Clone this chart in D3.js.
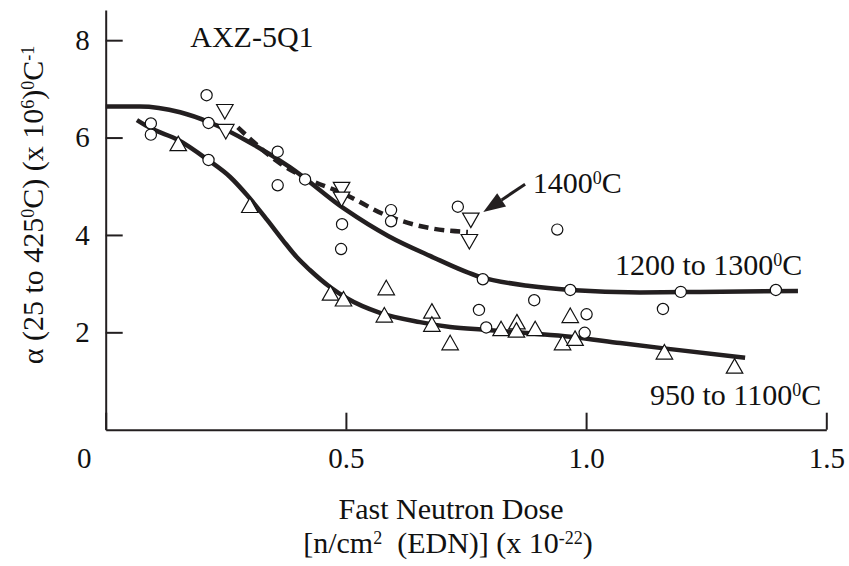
<!DOCTYPE html>
<html>
<head>
<meta charset="utf-8">
<script src="https://cdn.jsdelivr.net/npm/d3@7"></script>
<style>
  body { margin: 0; background: #fff; }
  text { font-family: "Liberation Serif", "Times New Roman", "DejaVu Serif", serif; fill: #111; }
</style>
</head>
<body>
<div id="chart"></div>
<script>
(function(){

    // tick values
    var xTicks = [0, 0.5, 1.0, 1.5];
    var yTicks = [2, 4, 6, 8];

    // open circles
    var circles = [
        [0.094, 6.29], [0.094, 6.06], [0.210, 6.87], [0.214, 6.30], [0.214, 5.54],
        [0.358, 5.71], [0.358, 5.02], [0.415, 5.14], [0.492, 4.22], [0.490, 3.71],
        [0.594, 4.51], [0.594, 4.28], [0.733, 4.58], [0.785, 3.09], [0.777, 2.46],
        [0.792, 2.10], [0.892, 2.66], [0.940, 4.11], [0.967, 2.87], [1.001, 2.37],
        [0.997, 1.99], [1.160, 2.48], [1.197, 2.83], [1.395, 2.87]
    ];

    // open triangles, point up
    var upTriangles = [
        [0.151, 5.88], [0.300, 4.61], [0.468, 2.81], [0.495, 2.69], [0.584, 2.92],
        [0.580, 2.36], [0.679, 2.44], [0.679, 2.17], [0.717, 1.79], [0.823, 2.08],
        [0.856, 2.22], [0.855, 2.05], [0.894, 2.08], [0.967, 2.35], [0.951, 1.79],
        [0.977, 1.88], [1.163, 1.60], [1.309, 1.31]
    ];

    // open triangles, point down
    var downTriangles = [
        [0.248, 6.53], [0.250, 6.12], [0.491, 4.93], [0.491, 4.73], [0.760, 4.30], [0.757, 3.86]
    ];

    // fitted curves
    var curve1200 = [
        [0.000, 6.64], [0.071, 6.64], [0.155, 6.52], [0.217, 6.31], [0.300, 5.90],
        [0.384, 5.39], [0.498, 4.53], [0.588, 3.98], [0.675, 3.57], [0.779, 3.14],
        [0.883, 2.95], [0.967, 2.87], [1.112, 2.82], [1.237, 2.83], [1.441, 2.85]
    ];
    var curve950 = [
        [0.065, 6.36], [0.094, 6.19], [0.151, 5.95], [0.213, 5.54], [0.259, 5.19],
        [0.294, 4.82], [0.336, 4.31], [0.369, 3.89], [0.398, 3.54], [0.425, 3.28],
        [0.467, 2.93], [0.502, 2.70], [0.571, 2.40], [0.654, 2.21], [0.717, 2.11],
        [0.794, 2.05], [0.883, 1.98], [0.967, 1.91], [1.071, 1.78], [1.162, 1.67],
        [1.331, 1.48]
    ];
    var curve1400 = [
        [0.275, 6.21], [0.363, 5.47], [0.425, 5.13], [0.488, 4.88], [0.592, 4.37],
        [0.675, 4.14], [0.754, 4.06]
    ];

    var width = 849;
    var height = 566;
    var ink = '#231f20';
    var serif = '"Liberation Serif", "Times New Roman", "DejaVu Serif", serif';

    var svg = d3.select('#chart')
        .append('svg')
            .attr('width', width)
            .attr('height', height);

    var xScale = d3.scaleLinear()
        .domain([0, 1.5])
        .range([105.7, 826.3]);

    var yScale = d3.scaleLinear()
        .domain([0, 8.62])
        .range([429.7, 10]);

    // axes
    var xAxis = d3.axisBottom(xScale)
        .tickValues(xTicks)
        .tickSizeInner(-17)
        .tickSizeOuter(0)
        .tickPadding(18)
        .tickFormat(function(d){ return d === 0 ? '0' : d3.format('.1f')(d); });

    var yAxis = d3.axisLeft(yScale)
        .tickValues(yTicks)
        .tickSizeInner(-17)
        .tickSizeOuter(0)
        .tickPadding(16)
        .tickFormat(d3.format('d'));

    var gx = svg.append('g')
        .attr('transform', 'translate(0,' + yScale(0) + ')')
        .call(xAxis);
    var gy = svg.append('g')
        .attr('transform', 'translate(' + xScale(0) + ',0)')
        .call(yAxis);

    [gx, gy].forEach(function(g){
        g.attr('font-family', serif);
        g.select('.domain').attr('stroke', ink).attr('stroke-width', 2);
        g.selectAll('.tick line').attr('stroke', ink).attr('stroke-width', 2);
        g.selectAll('.tick text')
            .attr('fill', '#111')
            .attr('font-size', '29px');
    });
    gx.selectAll('.tick text')
        .attr('dx', function(d){ return d === 0 ? -22 : 0; });

    // curves
    var line = d3.line()
        .x(function(d){ return xScale(d[0]); })
        .y(function(d){ return yScale(d[1]); })
        .curve(d3.curveMonotoneX);

    svg.append('path')
        .datum(curve1200)
        .attr('d', line)
        .attr('fill', 'none')
        .attr('stroke', ink)
        .attr('stroke-width', 4.5);

    svg.append('path')
        .datum(curve950)
        .attr('d', line)
        .attr('fill', 'none')
        .attr('stroke', ink)
        .attr('stroke-width', 4.5);

    svg.append('path')
        .datum(curve1400)
        .attr('d', line)
        .attr('fill', 'none')
        .attr('stroke', ink)
        .attr('stroke-width', 4.5)
        .attr('stroke-dasharray', '10,6');

    // markers
    var tw = 16.5, th = 14.5;
    function triangle(up) {
        var s = up ? 1 : -1;
        return 'M0,' + (-s * th / 2) + 'L' + (tw / 2) + ',' + (s * th / 2) + 'L' + (-tw / 2) + ',' + (s * th / 2) + 'Z';
    }

    svg.selectAll('.circle')
        .data(circles)
        .enter()
        .append('circle')
        .attr('class', 'circle')
        .attr('cx', function(d){ return xScale(d[0]); })
        .attr('cy', function(d){ return yScale(d[1]); })
        .attr('r', 5.6)
        .attr('fill', '#fff')
        .attr('stroke', '#111')
        .attr('stroke-width', 1.2);

    svg.selectAll('.up')
        .data(upTriangles)
        .enter()
        .append('path')
        .attr('class', 'up')
        .attr('d', triangle(true))
        .attr('transform', function(d){ return 'translate(' + xScale(d[0]) + ',' + yScale(d[1]) + ')'; })
        .attr('fill', '#fff')
        .attr('stroke', '#111')
        .attr('stroke-width', 1.2);

    svg.selectAll('.down')
        .data(downTriangles)
        .enter()
        .append('path')
        .attr('class', 'down')
        .attr('d', triangle(false))
        .attr('transform', function(d){ return 'translate(' + xScale(d[0]) + ',' + yScale(d[1]) + ')'; })
        .attr('fill', '#fff')
        .attr('stroke', '#111')
        .attr('stroke-width', 1.2);

    // arrow to the dashed curve
    var ax0 = xScale(0.873), ay0 = yScale(5.04);
    var ax1 = xScale(0.786), ay1 = yScale(4.47);
    var ang = Math.atan2(ay1 - ay0, ax1 - ax0);
    var headLen = 22, headW = 8;
    var bx = ax1 - headLen * Math.cos(ang), by = ay1 - headLen * Math.sin(ang);
    svg.append('line')
        .attr('x1', ax0).attr('y1', ay0)
        .attr('x2', bx).attr('y2', by)
        .attr('stroke', ink)
        .attr('stroke-width', 3);
    svg.append('path')
        .attr('d', 'M' + ax1 + ',' + ay1 +
            'L' + (bx + headW * Math.sin(ang)) + ',' + (by - headW * Math.cos(ang)) +
            'L' + (bx - headW * Math.sin(ang)) + ',' + (by + headW * Math.cos(ang)) + 'Z')
        .attr('fill', ink);

    // text with superscripts: parts = [[text, isSup], ...]
    function richText(g, parts, size) {
        var t = g.append('text').attr('font-size', size + 'px').style('white-space', 'pre');
        var shift = Math.round(size * 0.3);
        var up = false;
        parts.forEach(function(p){
            var ts = t.append('tspan').text(p[0]);
            if (p[1] && !up) { ts.attr('dy', -shift).attr('font-size', Math.round(size * 0.6) + 'px'); up = true; }
            else if (p[1]) { ts.attr('font-size', Math.round(size * 0.6) + 'px'); }
            else if (up) { ts.attr('dy', shift); up = false; }
        });
        return t;
    }

    svg.append('text')
        .attr('x', xScale(0.176))
        .attr('y', yScale(7.86))
        .attr('font-size', '30px')
        .text('AXZ-5Q1');

    richText(svg, [['1400', false], ['0', true], ['C', false]], 30)
        .attr('x', xScale(0.889)).attr('y', yScale(4.86));

    richText(svg, [['1200 to 1300', false], ['0', true], ['C', false]], 30)
        .attr('x', xScale(1.060)).attr('y', yScale(3.18));

    richText(svg, [['950 to 1100', false], ['0', true], ['C', false]], 30)
        .attr('x', xScale(1.133)).attr('y', yScale(0.51));

    // axis titles
    svg.append('text')
        .attr('x', 451)
        .attr('y', 519)
        .attr('text-anchor', 'middle')
        .attr('font-size', '30px')
        .text('Fast Neutron Dose');

    richText(svg, [['[n/cm', false], ['2', true], ['  (EDN)] (x 10', false], ['-22', true], [')', false]], 30)
        .attr('x', 448).attr('y', 553)
        .attr('text-anchor', 'middle');

    richText(svg, [['\u03b1 (25 to 425', false], ['0', true], ['C) (x 10', false], ['6', true], [')', false], ['0', true], ['C', false], ['-1', true]], 30)
        .attr('text-anchor', 'middle')
        .attr('transform', 'translate(43,205) rotate(-90)');

})();
</script>
</body>
</html>
